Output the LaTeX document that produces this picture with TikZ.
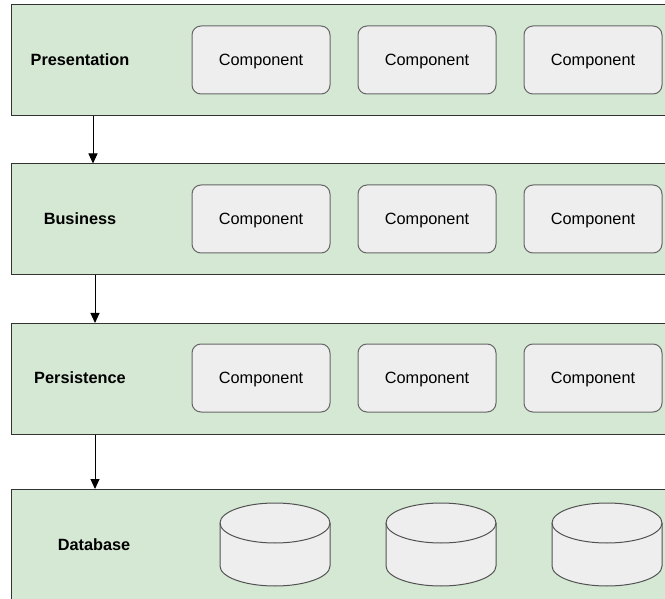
\documentclass[tikz,border=0pt]{standalone}
\usepackage{fontspec}
\setmainfont{Liberation Sans}
\usetikzlibrary{arrows.meta}
\definecolor{layerfill}{HTML}{D5E8D4}
\definecolor{layerline}{HTML}{333333}
\definecolor{compfill}{HTML}{EEEEEE}
\definecolor{compline}{HTML}{666666}
\begin{document}
\begin{tikzpicture}[x=1pt,y=-1pt,
  layer/.style={draw=layerline, fill=layerfill, line width=1pt, minimum width=680pt, minimum height=110.5pt, inner sep=0pt, anchor=north west},
  comp/.style={draw=compline, fill=compfill, rounded corners=9pt, line width=1pt, minimum width=138pt, minimum height=68pt, inner sep=0pt, text height=11.7pt, text depth=0pt, font=\fontsize{16.3}{19}\selectfont},
  lbl/.style={font=\bfseries\fontsize{16.3}{19}\selectfont, inner sep=0pt, text height=11.7pt, text depth=0pt},
  cyl/.style={draw=layerline!85, fill=compfill, line width=1pt},
  link/.style={-{Triangle[length=10pt,width=9pt]}, line width=1pt, draw=black}]
\useasboundingbox (0,0) rectangle (665,599);
\clip (0,0) rectangle (665,599);
% layers
\node[layer] (L1) at (11,4.5) {};
\node[layer] (L2) at (11,163.5) {};
\node[layer] (L3) at (11,323) {};
\node[layer, minimum height=130pt] (L4) at (11,489) {};
% labels
\node[lbl] (t1) at (80,60) {Presentation};
\node[lbl] (t2) at (80,219) {Business};
\node[lbl] (t3) at (80,378) {Persistence};
\node[lbl] (t4) at (94,545) {Database};
% components
\node[comp] (c11) at (261,60) {Component};
\node[comp] (c12) at (427,60) {Component};
\node[comp] (c13) at (593,60) {Component};
\node[comp] (c21) at (261,219) {Component};
\node[comp] (c22) at (427,219) {Component};
\node[comp] (c23) at (593,219) {Component};
\node[comp] (c31) at (261,378) {Component};
\node[comp] (c32) at (427,378) {Component};
\node[comp] (c33) at (593,378) {Component};
% databases
\foreach \cx in {275,441,607} {
  \draw[cyl] (\cx-55,523) -- (\cx-55,566)
    arc[start angle=180, end angle=0, x radius=55, y radius=20]
    -- (\cx+55,523)
    arc[start angle=0, end angle=-180, x radius=55, y radius=20] -- cycle;
  \draw[cyl, fill=none] (\cx-55,523) arc[start angle=180, end angle=0, x radius=55, y radius=20];
}
% connectors
\draw[link] ([xshift=82pt]L1.south west) -- ([xshift=82pt]L2.north west);
\draw[link] ([xshift=84pt]L2.south west) -- ([xshift=84pt]L3.north west);
\draw[link] ([xshift=84pt]L3.south west) -- ([xshift=84pt]L4.north west);
\end{tikzpicture}
\end{document}
